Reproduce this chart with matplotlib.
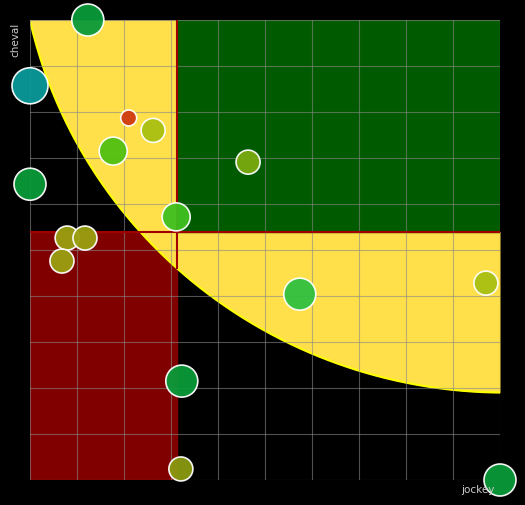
import numpy as np
import matplotlib
matplotlib.use("Agg")
import matplotlib.pyplot as plt

# data
xs = [1.23, 0.0, 2.10, 2.62, 1.77, 4.64, 0.0, 3.11, 0.79, 1.17, 0.68, 5.74, 9.70, 3.23, 3.21, 10.0]
ys = [10.0, 8.57, 7.87, 7.60, 7.15, 6.91, 6.43, 5.72, 5.26, 5.26, 4.76, 4.04, 4.28, 2.15, 0.24, 0.0]
radii = [16, 18, 8, 12, 14, 12, 16, 14, 12, 12, 12, 16, 12, 16, 12, 16]
colors = ['#0a9a3a', '#0a9a9a', '#d03a10', '#a8c010', '#50c010', '#7aaa10', '#0a9a3a', '#40c020',
          '#9aa010', '#9aa010', '#9aa010', '#30c040', '#a8c010', '#0a9a3a', '#8a9a10', '#0a9a3a']
x_split, y_split = 3.13, 5.4

fig = plt.figure(figsize=(5.25, 5.05), dpi=100, facecolor='black')
ax = fig.add_axes([30/525, 25/505, 470/525, 460/505])
ax.set_facecolor('black')
ax.set_xlim(0, 10); ax.set_ylim(0, 10)

ax.add_patch(plt.Rectangle((0, 0), x_split, y_split, color='#800000', zorder=1))
cx, cy, r = 10.1, 12.25, 10.35
xc = np.linspace(0, 10, 300)
yc = cy - np.sqrt(np.clip(r**2 - (xc - cx)**2, 0, None))
mask = xc >= x_split
ax.fill_between(xc, yc, np.where(mask, y_split, 10), where=None, color='#ffe04a', zorder=2, lw=0)
ax.fill_between(xc[~mask], yc[~mask], 10, color='#ffe04a', zorder=2, lw=0)
ax.plot(xc, yc, color='yellow', lw=1.5, zorder=3)
ax.add_patch(plt.Rectangle((x_split, y_split), 10 - x_split, 10 - y_split, color='#005a00', zorder=3))
for v in range(11):
    ax.axvline(v, color='#888888', lw=0.8, alpha=0.6, zorder=4)
    ax.axhline(v, color='#888888', lw=0.8, alpha=0.6, zorder=4)
ax.plot([0, 10], [y_split, y_split], color='#a00000', lw=1.5, zorder=5)
ax.plot([x_split, x_split], [4.6, 10], color='#a00000', lw=1.5, zorder=5)

ax.scatter(xs, ys, s=[(2*rr*0.72)**2 for rr in radii], c=colors, edgecolors='white',
           linewidths=1.2, alpha=0.95, zorder=6, clip_on=False)
ax.set_xticks([]); ax.set_yticks([])
for s in ax.spines.values():
    s.set_visible(False)
fig.text(15/525, 1 - 40/505, 'cheval', color='#cccccc', fontsize=7.5, rotation=90, ha='center', va='center')
fig.text(478/525, 1 - 490/505, 'jockey', color='#cccccc', fontsize=7.5, ha='center', va='center')
fig.savefig('out.png', dpi=100, facecolor='black')
